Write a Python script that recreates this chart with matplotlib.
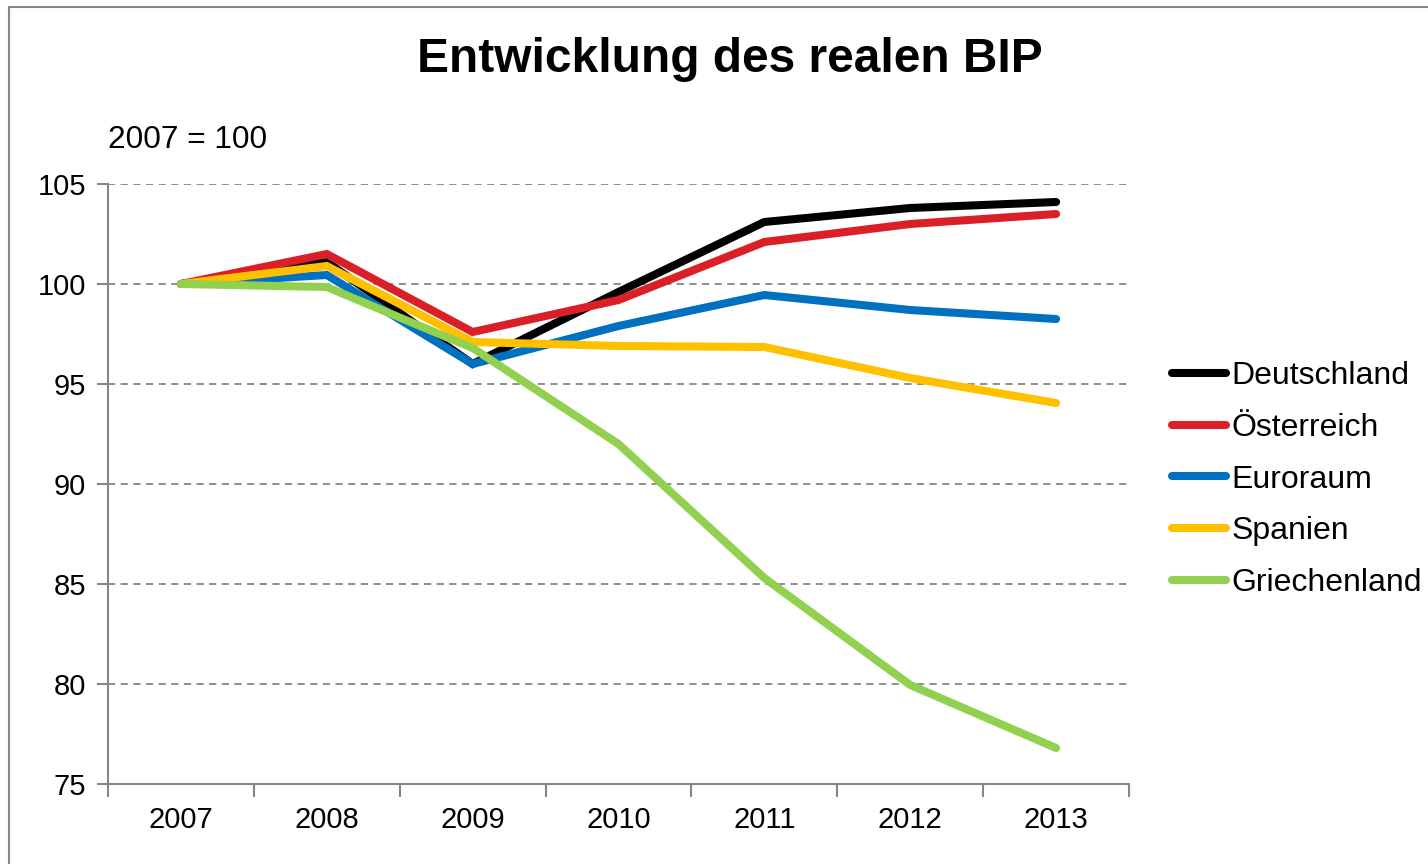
import matplotlib.pyplot as plt
from matplotlib.patches import Rectangle

plt.rcParams["font.family"] = ["Liberation Sans", "DejaVu Sans"]

years = ["2007", "2008", "2009", "2010", "2011", "2012", "2013"]
deutschland = [100.0, 101.1, 96.0, 99.6, 103.1, 103.8, 104.1]
oesterreich = [100.0, 101.5, 97.6, 99.2, 102.1, 103.0, 103.5]
euroraum = [100.0, 100.45, 96.0, 97.9, 99.45, 98.7, 98.25]
spanien = [100.0, 100.9, 97.1, 96.9, 96.85, 95.3, 94.05]
griechenland = [100.0, 99.85, 96.8, 92.0, 85.3, 79.95, 76.8]

series = [
    ("Deutschland", deutschland, "#000000"),
    ("Österreich", oesterreich, "#DA1F27"),
    ("Euroraum", euroraum, "#0070C0"),
    ("Spanien", spanien, "#FFC000"),
    ("Griechenland", griechenland, "#92D050"),
]

W, H = 1428, 864
fig = plt.figure(figsize=(W / 100, H / 100), dpi=100)
ax = fig.add_axes([108 / W, 1 - 784 / H, (1129 - 108) / W, (784 - 184) / H])

# outer chart frame
fig.patches.append(Rectangle((9 / W, -0.05), 1.2, 1 - 7 / H + 0.05, transform=fig.transFigure,
                             fill=False, edgecolor="#868686", linewidth=1.5))

x = list(range(len(years)))
for name, values, color in series:
    ax.plot(x, values, color=color, linewidth=5.8, label=name,
            solid_capstyle="round", solid_joinstyle="miter", zorder=3)

ax.set_xlim(-0.5, len(years) - 0.5)
ax.set_ylim(75, 105)
ax.set_yticks([75, 80, 85, 90, 95, 100, 105])
ax.set_xticks(x)
ax.set_xticklabels(years)
ax.set_xticks([i - 0.5 for i in range(len(years) + 1)], minor=True)
ax.tick_params(axis="x", which="major", length=0, pad=16, labelsize=21)
ax.tick_params(axis="x", which="minor", length=9, width=1.5, color="#868686", direction="out")
ax.tick_params(axis="y", length=8, width=1.5, color="#868686", pad=8, labelsize=21)

for spine in ["top", "right"]:
    ax.spines[spine].set_visible(False)
for spine in ["left", "bottom"]:
    ax.spines[spine].set_color("#868686")
    ax.spines[spine].set_linewidth(1.5)

ax.grid(axis="y", linestyle=(0, (4, 3)), color="#868686", linewidth=1.3, zorder=0)

fig.text(0.511, 1 - 60 / H, "Entwicklung des realen BIP", ha="center", va="center",
         fontsize=34.5, fontweight="bold")
fig.text(108 / W, 1 - 140 / H, "2007 = 100", ha="left", va="center", fontsize=22.8)

fig.legend(loc="center left", bbox_to_anchor=(1172 / W, 1 - 479.5 / H), frameon=False,
           fontsize=23, handlelength=1.7, handletextpad=0.15, labelspacing=0.68,
           borderpad=0, borderaxespad=0)

fig.savefig("out.png", dpi=100)
